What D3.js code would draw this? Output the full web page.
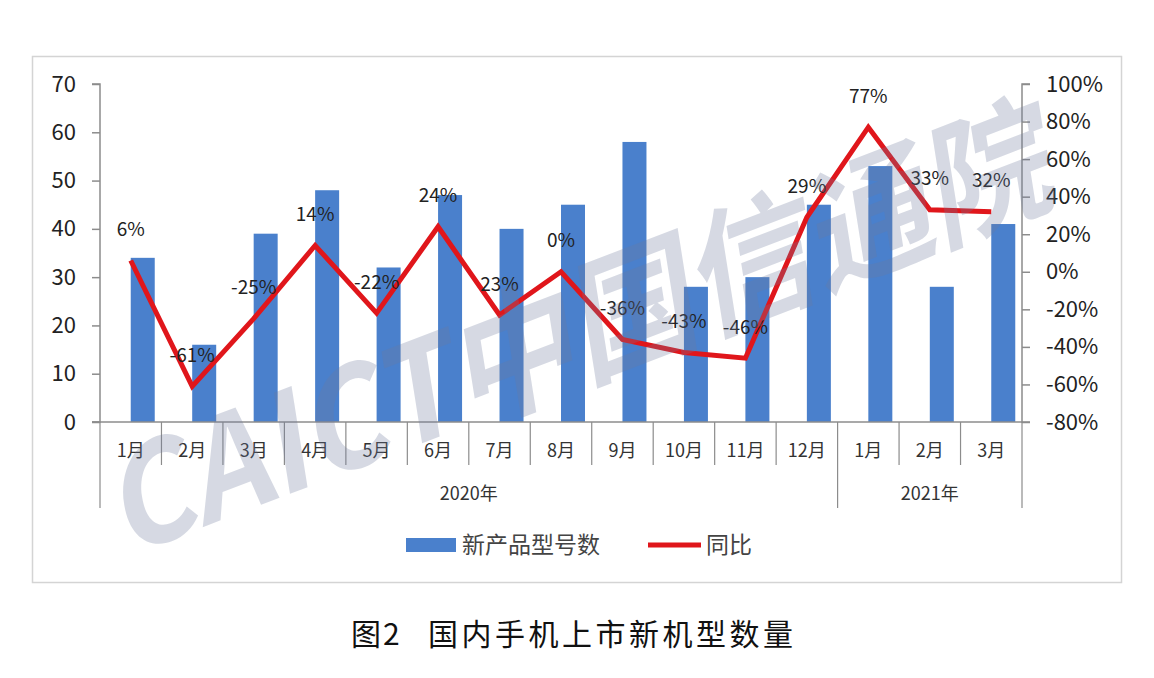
<!DOCTYPE html>
<html><head><meta charset="utf-8">
<script src="https://cdn.jsdelivr.net/npm/d3@7"></script>
<style>
html,body{margin:0;padding:0;background:#fff;}
svg{display:block;}
text{font-family:"Noto Sans CJK SC","Noto Sans",sans-serif;}
</style></head>
<body>
<svg id="chart" width="1154" height="678"></svg>
<script>
const months = ["1月","2月","3月","4月","5月","6月","7月","8月","9月","10月","11月","12月","1月","2月","3月"];
const years = ["2020年","2021年"];
const yearSpans = [12,3];
const models = [34,16,39,48,32,47,40,45,58,28,30,45,53,28,41];
const yoy = [6,-61,-25,14,-22,24,-23,0,-36,-43,-46,29,77,33,32];
const yoyLabels = ["6%","-61%","-25%","14%","-22%","24%","23%","0%","-36%","-43%","-46%","29%","77%","33%","32%"];
const leftTicks = [0,10,20,30,40,50,60,70];
const rightTicks = [-80,-60,-40,-20,0,20,40,60,80,100];
const seriesNames = ["新产品型号数","同比"];
const titleParts = ["图2","国内手机上市新机型数量"];
const watermark = "CAICT中国信通院";

const svg = d3.select("#chart");
const L = 100, R = 1022, T = 84, B = 422;
const blue = "#4a80cc", red = "#e0161b", axisCol = "#8c8c8c", txt = "#222";

// frame
svg.append("rect").attr("x",32.5).attr("y",56.5).attr("width",1089).attr("height",526)
  .attr("fill","#fff").attr("stroke","#d4d4d4").attr("stroke-width",1.5);

const x = d3.scaleBand().domain(d3.range(months.length)).range([L,R]).padding(0);
const yL = d3.scaleLinear().domain([0,70]).range([B,T]);
const yR = d3.scaleLinear().domain([-80,100]).range([B,T]);
const bw = x.bandwidth();
const barW = 24;

// bars (start at band center, extend right)
svg.append("g").selectAll("rect").data(models).join("rect")
  .attr("x",(d,i)=>x(i)+bw/2).attr("width",barW)
  .attr("y",d=>yL(d)).attr("height",d=>yL(0)-yL(d))
  .attr("fill",blue);

// axes
const gl = svg.append("g").attr("transform",`translate(${L},0)`)
  .call(d3.axisLeft(yL).tickValues(leftTicks).tickSize(8).tickPadding(16).tickFormat(d3.format("d")));
const gr = svg.append("g").attr("transform",`translate(${R},0)`)
  .call(d3.axisRight(yR).tickValues(rightTicks).tickSize(8).tickPadding(16).tickFormat(d=>d+"%"));
[gl,gr].forEach(g=>{
  g.select(".domain").attr("stroke",axisCol).attr("stroke-width",1.5);
  g.selectAll(".tick line").attr("stroke",axisCol).attr("stroke-width",1.5);
  g.selectAll(".tick text").attr("fill",txt).attr("font-size",22)
    .style("font-family","'Noto Sans CJK SC','Noto Sans',sans-serif");
});
gl.select(".domain").attr("d",`M-8,${T}H0V${B}H-8`);
gr.select(".domain").attr("d",`M8,${T}H0V${B}H8`);

// bottom axis line
svg.append("line").attr("x1",L-8).attr("x2",R).attr("y1",B).attr("y2",B)
  .attr("stroke",axisCol).attr("stroke-width",1.5);

// separators
const yearBoundaries = [0];
yearSpans.reduce((a,s)=>{yearBoundaries.push(a+s);return a+s;},0);
const edgeX = i => i < months.length ? x(i) : x(months.length-1)+bw;
svg.append("g").selectAll("line").data(d3.range(months.length+1)).join("line")
  .attr("x1",edgeX).attr("x2",edgeX).attr("y1",B)
  .attr("y2",i=>yearBoundaries.includes(i)?508:465)
  .attr("stroke",axisCol).attr("stroke-width",1.2);

// month labels
svg.append("g").selectAll("text").data(months).join("text")
  .attr("x",(d,i)=>x(i)+bw/2).attr("y",451).attr("dy","0.35em")
  .attr("text-anchor","middle").attr("font-size",18).attr("fill","#333").text(d=>d);

// year labels
svg.append("g").selectAll("text").data(years).join("text")
  .attr("x",(d,i)=>(edgeX(yearBoundaries[i])+edgeX(yearBoundaries[i+1]))/2)
  .attr("y",494).attr("dy","0.35em").attr("text-anchor","middle")
  .attr("font-size",18).attr("fill","#333").text(d=>d);

// line
const line = d3.line().x((d,i)=>x(i)+bw/2).y(d=>yR(d));
svg.append("path").datum(yoy).attr("d",line).attr("fill","none")
  .attr("stroke",red).attr("stroke-width",5).attr("stroke-linejoin","miter");

// data labels
svg.append("g").selectAll("text").data(yoy).join("text")
  .attr("x",(d,i)=>x(i)+bw/2).attr("y",d=>yR(d)-31).attr("dy","0.35em")
  .attr("text-anchor","middle").attr("font-size",19).attr("fill",txt)
  .text((d,i)=>yoyLabels[i]);

// legend
const lg = svg.append("g");
lg.append("rect").attr("x",406).attr("y",538).attr("width",50).attr("height",14).attr("fill",blue);
lg.append("text").attr("x",462).attr("y",545).attr("dy","0.35em").attr("font-size",23)
  .attr("fill","#444").text(seriesNames[0]);
lg.append("line").attr("x1",648).attr("x2",701).attr("y1",545).attr("y2",545)
  .attr("stroke",red).attr("stroke-width",5);
lg.append("text").attr("x",706).attr("y",545).attr("dy","0.35em").attr("font-size",23)
  .attr("fill","#444").text(seriesNames[1]);

// title
svg.append("text").attr("x",351).attr("y",634).attr("dy","0.35em")
  .attr("font-size",30).attr("fill","#111").attr("letter-spacing",2).text(titleParts[0]);
svg.append("text").attr("x",428).attr("y",634).attr("dy","0.35em")
  .attr("font-size",30).attr("fill","#111").attr("letter-spacing",3.5).text(titleParts[1]);

// watermark
svg.append("text").attr("transform","translate(585,330) rotate(-21) skewX(-12)")
  .attr("text-anchor","middle").attr("dy","0.35em")
  .attr("font-size",135).attr("font-weight","bold").attr("fill","#6e7a9c").attr("opacity",0.28)
  .attr("textLength",1000).attr("lengthAdjust","spacingAndGlyphs")
  .text(watermark);
</script>
</body></html>
